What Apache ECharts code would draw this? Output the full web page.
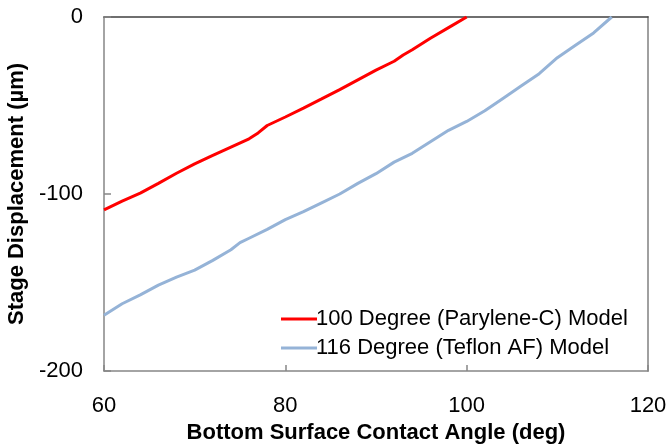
<!DOCTYPE html>
<html><head><meta charset="utf-8">
<script src="https://cdn.jsdelivr.net/npm/echarts@6/dist/echarts.min.js"></script>
<style>html,body{margin:0;padding:0;background:#fff}#c{width:667px;height:444px}</style>
</head><body><div id="c"></div>
<script>
const parylX = [60,62,64,66,68,70,72,74,76,77,78,80,82,84,86,88,90,92,93,94,96,98,100];
const parylY = [-109,-104,-99.5,-94,-88.3,-83,-78.2,-73.5,-68.8,-65.5,-61.3,-56.5,-51.5,-46.3,-41,-35.5,-30,-25,-21.5,-18.5,-12,-6,0];
const teflonX = [60,62,64,66,68,70,72,74,75,76,78,80,82,84,86,88,90,92,94,96,98,100,102,104,106,108,110,112,114,116];
const teflonY = [-168.5,-162,-157,-151.5,-147,-143,-137.5,-131.5,-127.5,-125,-120,-114.5,-110,-105,-100,-94,-88.5,-82,-77,-70.5,-64,-59,-53,-46,-39,-32,-23,-16,-9,0];
const seriesNames = ['100 Degree (Parylene-C) Model','116 Degree (Teflon AF) Model'];
const xTitle = 'Bottom Surface Contact Angle (deg)';
const yTitle = 'Stage Displacement (\u00b5m)';

const font = 'Liberation Sans, Arial, sans-serif';
const chart = echarts.init(document.getElementById('c'));
const zip = (a,b)=>a.map((v,i)=>[v,b[i]]);
chart.setOption({
  animation:false,
  grid:{left:104,top:17,right:19,bottom:73,show:false,containLabel:false,outerBoundsMode:'none'},
  legend:{
    orient:'vertical', left:276, top:303, itemWidth:36, itemHeight:3, itemGap:7,
    icon:'rect',
    textStyle:{fontFamily:font,fontSize:22,color:'#000',padding:[0,0,0,-6]},
    data:seriesNames
  },
  xAxis:[{
    type:'value', min:60, max:120, interval:20, position:'bottom',
    name:xTitle, nameLocation:'middle', nameGap:47,
    nameTextStyle:{fontFamily:font,fontSize:22,fontWeight:'bold',color:'#000'},
    axisLine:{show:true,onZero:false,lineStyle:{color:'#868686',width:1.5}},
    axisTick:{show:true,inside:true,length:6,lineStyle:{color:'#868686',width:1.5}},
    axisLabel:{fontFamily:font,fontSize:22,color:'#000',margin:24},
    splitLine:{show:false}
  },{
    type:'value', min:60, max:120, position:'top',
    axisLine:{show:true,onZero:false,lineStyle:{color:'#404040',width:1.5}},
    axisTick:{show:false}, axisLabel:{show:false}, splitLine:{show:false}
  }],
  yAxis:[{
    type:'value', min:-200, max:0, interval:100, position:'left',
    name:yTitle, nameLocation:'middle', nameGap:68, nameRotate:90,
    nameTextStyle:{fontFamily:font,fontSize:22,fontWeight:'bold',color:'#000'},
    axisLine:{show:true,onZero:false,lineStyle:{color:'#868686',width:1.5}},
    axisTick:{show:true,inside:true,length:7,lineStyle:{color:'#868686',width:1.5}},
    axisLabel:{fontFamily:font,fontSize:22,color:'#000',margin:21},
    splitLine:{show:false}
  },{
    type:'value', min:-200, max:0, position:'right',
    axisLine:{show:true,onZero:false,lineStyle:{color:'#a0a0a0',width:2}},
    axisTick:{show:false}, axisLabel:{show:false}, splitLine:{show:false}
  }],
  series:[
    {name:seriesNames[0],type:'line',data:zip(parylX,parylY),showSymbol:false,smooth:false,
     lineStyle:{color:'#ff0000',width:3},itemStyle:{color:'#ff0000'}},
    {name:seriesNames[1],type:'line',data:zip(teflonX,teflonY),showSymbol:false,smooth:false,
     lineStyle:{color:'#95b3d7',width:3},itemStyle:{color:'#95b3d7'}}
  ]
});
</script></body></html>
